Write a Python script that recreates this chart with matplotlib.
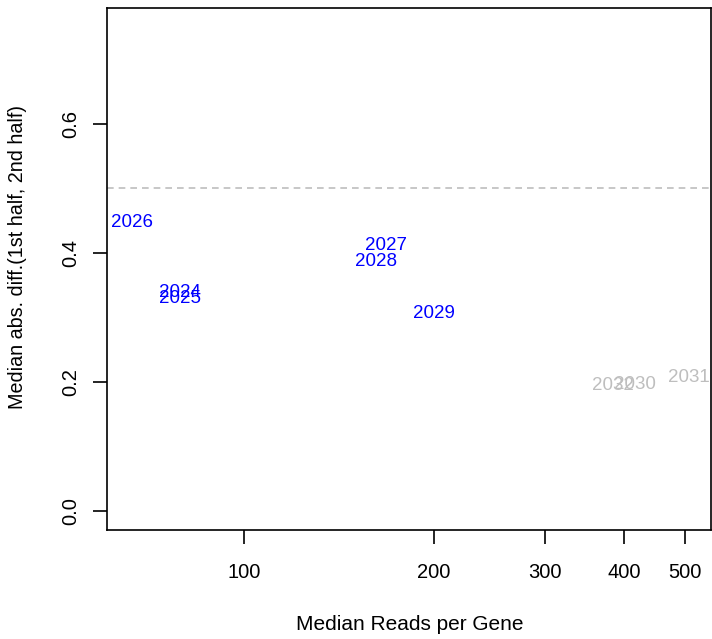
import numpy as np
import matplotlib
matplotlib.use('Agg')
import matplotlib.pyplot as plt

plt.rcParams['font.family'] = ['Liberation Sans', 'DejaVu Sans']

# label positions (x is on a log scale)
years_blue = ['2024', '2025', '2026', '2027', '2028', '2029']
reads_blue = [79.1, 79.1, 66.4, 167.8, 161.8, 199.9]
diff_blue = [0.339, 0.329, 0.447, 0.411, 0.387, 0.306]

years_grey = ['2030', '2031', '2032']
reads_grey = [416.6, 507.4, 384.5]
diff_grey = [0.196, 0.207, 0.195]

fig = plt.figure(figsize=(7.12, 6.39), dpi=100)
ax = fig.add_axes([107/712, 1 - 530/639, (711-107)/712, (530-8)/639])

ax.set_xscale('log')
ax.set_xlim(60.56, 549.8)
ax.set_ylim(-0.029, 0.779)

for lab, x, y in zip(years_blue, reads_blue, diff_blue):
    ax.text(x, y, lab, color='#0000FF', fontsize=13.5, ha='center', va='center')
for lab, x, y in zip(years_grey, reads_grey, diff_grey):
    ax.text(x, y, lab, color='#BEBEBE', fontsize=13.5, ha='center', va='center')

ax.axhline(0.5, color='#BEBEBE', linestyle=(0, (4, 3)), linewidth=1.2)

ax.set_xticks([100, 200, 300, 400, 500])
ax.set_xticklabels(['100', '200', '300', '400', '500'])
ax.xaxis.set_minor_locator(matplotlib.ticker.NullLocator())
ax.set_yticks([0.0, 0.2, 0.4, 0.6])
ax.set_yticklabels(['0.0', '0.2', '0.4', '0.6'], rotation=90, va='center')
ax.tick_params(axis='both', length=10, width=1.2, labelsize=14.5, direction='out')
ax.tick_params(axis='x', pad=14)
ax.tick_params(axis='y', pad=9)
for s in ax.spines.values():
    s.set_linewidth(1.2)

fig.text(410/712, 1 - 624/639, 'Median Reads per Gene', fontsize=15, ha='center', va='center')
fig.text(18/712, 1 - 257/639, 'Median abs. diff.(1st half, 2nd half)', fontsize=14.2,
         ha='center', va='center', rotation=90)

fig.savefig('out.png', dpi=100)
